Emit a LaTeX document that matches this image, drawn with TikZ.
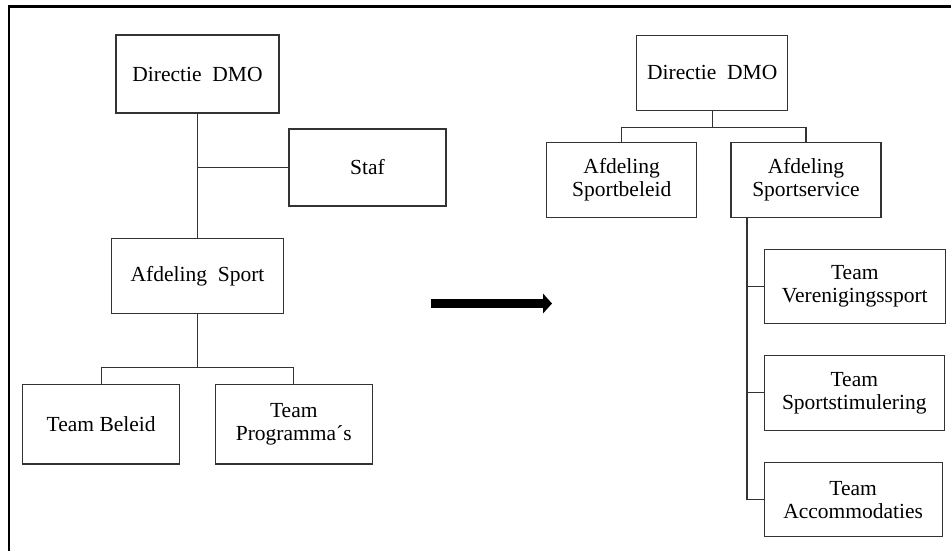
\documentclass[tikz,border=0pt]{standalone}
\usepackage{fontspec}
\setmainfont{Liberation Serif}
\usetikzlibrary{arrows.meta}
\begin{document}
\begin{tikzpicture}[x=1pt,y=-1pt,
  unit/.style={draw=black!80, line width=1.1pt, align=center, inner sep=0pt,
    font=\fontsize{21.5}{23}\selectfont, text=black},
  link/.style={draw=black!80, line width=1.1pt},
  heavylink/.style={link, line width=1.9pt}]
\useasboundingbox (0,0) rectangle (951,550);

% outer frame (left and top edges)
\draw[line width=2.8pt] (9,570) -- (9,6.5) -- (970,6.5);

% ---- current organisation ----
\node[unit, minimum width=163pt, minimum height=78pt] (ld) at (197.5,74) {Directie\ \ DMO};
\node[unit, minimum width=157pt, minimum height=77pt] (staf) at (367.5,167.5) {Staf};
\node[unit, minimum width=172pt, minimum height=74.5pt] (lsport) at (197.5,275.8) {Afdeling\ \ Sport};
\node[unit, minimum width=157pt, minimum height=79.3pt] (tbel) at (101.2,424.3) {Team Beleid};
\node[unit, minimum width=157pt, minimum height=79.3pt] (tprog) at (293.8,424.3) {Team\\Programma´s};

\draw[heavylink] (ld.south) -- (ld.south |- staf.west);
\draw[link] (ld.south |- staf.west) -- (lsport.north);
\draw[link] (ld.south |- staf.west) -- (staf.west);
\coordinate (lbar) at (197.5,367.7);
\draw[heavylink] (lsport.south) -- (lbar);
\draw[link] (tbel.north) -- (tbel.north |- lbar) -- (tprog.north |- lbar) -- (tprog.north);

% ---- transition arrow ----
\coordinate (shiftA) at (431,303.5);
\coordinate (shiftB) at (552,303.5);
\draw[line width=8.4pt, -{Triangle[length=9pt, width=19.5pt]}] (shiftA) -- (shiftB);

% ---- new organisation ----
\node[unit, minimum width=151pt, minimum height=75.7pt] (rd) at (712.2,72.9) {Directie\ \ DMO};
\node[unit, minimum width=150pt, minimum height=75.4pt] (abel) at (621.7,180) {Afdeling\\Sportbeleid};
\node[unit, minimum width=150pt, minimum height=75.4pt] (aser) at (806,180) {Afdeling\\Sportservice};
\node[unit, minimum width=181pt, minimum height=74.3pt] (tver) at (854.8,286.2) {Team\\Verenigingssport};
\node[unit, minimum width=180pt, minimum height=74.3pt] (tsti) at (854.3,392.9) {Team\\Sportstimulering};
\node[unit, minimum width=177.7pt, minimum height=74pt] (tacc) at (853.2,499.7) {Team\\Accommodaties};

\coordinate (rbar) at (712.2,127.3);
\draw[link] (rd.south) -- (rbar);
\draw[link] (abel.north) -- (abel.north |- rbar) -- (aser.north |- rbar) -- (aser.north);

\coordinate (trunk) at (747,217.7);
\draw[link] (trunk) -- (trunk |- tacc.west) -- (tacc.west);
\draw[link] (trunk |- tver.west) -- (tver.west);
\draw[link] (trunk |- tsti.west) -- (tsti.west);
\end{tikzpicture}
\end{document}
